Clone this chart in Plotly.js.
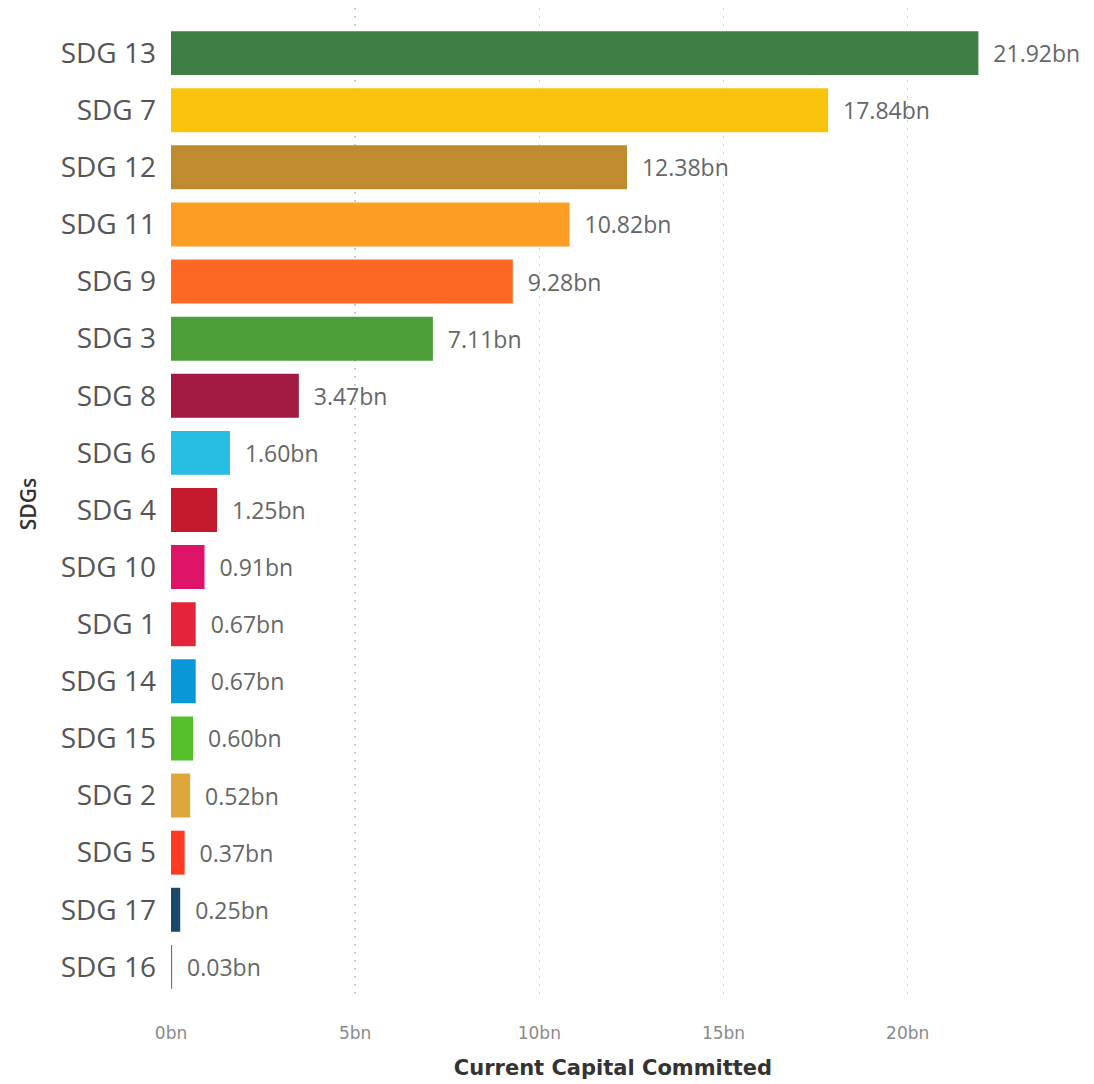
<!DOCTYPE html>
<html><head><meta charset="utf-8">
<script src="https://cdn.plot.ly/plotly-3.0.1.min.js"></script>
<style>html,body{margin:0;padding:0;background:#fff}</style>
</head><body>
<div id="chart" style="width:1094px;height:1084px"></div>
<script>
const categories = ["SDG 13","SDG 7","SDG 12","SDG 11","SDG 9","SDG 3","SDG 8","SDG 6","SDG 4","SDG 10","SDG 1","SDG 14","SDG 15","SDG 2","SDG 5","SDG 17","SDG 16"];
const values = [21.92,17.84,12.38,10.82,9.28,7.11,3.47,1.60,1.25,0.91,0.67,0.67,0.60,0.52,0.37,0.25,0.03];
const colors = ["#3F7E44","#FAC30B","#BF8B2E","#FD9D24","#FD6925","#4C9F38","#A21942","#26BDE2","#C5192D","#DD1367","#E5243B","#0A97D9","#56C02B","#DDA63A","#FF3A21","#19486A","#4A7BA6"];
const xTickVals = [0,5,10,15,20];
const xTickText = ["0bn","5bn","10bn","15bn","20bn"];
const labels = values.map(v => "  " + v.toFixed(2) + "bn");

const trace = {
  type: "bar", orientation: "h",
  y: categories, x: values,
  marker: {color: colors},
  width: 0.77,
  text: labels, textposition: "outside", cliponaxis: false,
  textfont: {family: "Open Sans", size: 23, color: "#666666"},
  hoverinfo: "x+y"
};
const layout = {
  width: 1094, height: 1084,
  margin: {l: 171, r: 39, t: 8, b: 84},
  paper_bgcolor: "#fff", plot_bgcolor: "#fff",
  showlegend: false,
  bargap: 0.23,
  xaxis: {
    range: [0, 24], tickvals: xTickVals, ticktext: xTickText,
    showgrid: true, gridcolor: "#cfcfcf", griddash: "2px,6px", gridwidth: 1.5,
    zeroline: false, showline: false, ticks: "",
    tickfont: {family: "DejaVu Sans", size: 17, color: "#8a8a8a"},
    ticklabelstandoff: 21,
    title: {text: "Current Capital Committed", font: {family: "DejaVu Sans", weight: "bold", size: 21, color: "#333333"}, standoff: 18}
  },
  yaxis: {
    type: "category", range: [16.58, -0.79], categoryorder: "array", categoryarray: categories,
    showgrid: false, zeroline: false, showline: false, ticks: "",
    tickfont: {family: "Open Sans", size: 28, color: "#555555"},
    ticklabelstandoff: 14,
    title: {text: "SDGs", font: {family: "Open Sans", weight: 600, size: 21, color: "#333333"}, standoff: 18}
  },
  font: {family: "Open Sans"}
};
Plotly.newPlot("chart", [trace], layout, {displayModeBar: false, staticPlot: true});
</script>
</body></html>
